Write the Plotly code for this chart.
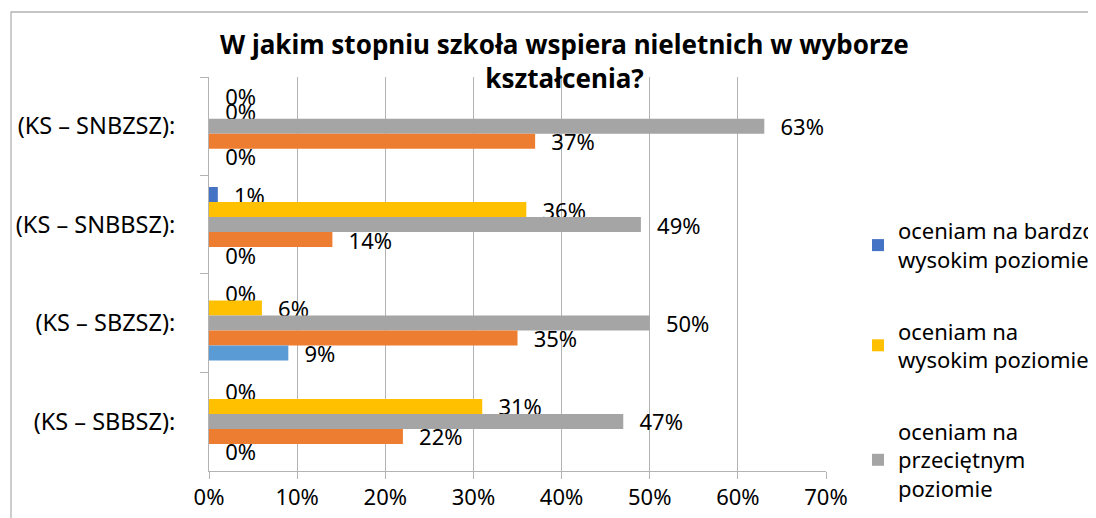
import plotly.graph_objects as go

categories = ["(KS – SNBZSZ):", "(KS – SNBBSZ):", "(KS – SBZSZ):", "(KS – SBBSZ):"]

series_names = [
    "oceniam na bardzo<br>wysokim poziomie",
    "oceniam na<br>wysokim poziomie",
    "oceniam na<br>przeciętnym<br>poziomie",
    "oceniam na<br>niskim poziomie",
    "oceniam na bardzo<br>niskim poziomie",
]
bardzo_wysoki = [0, 1, 0, 0]
wysoki = [0, 36, 6, 31]
przecietny = [63, 49, 50, 47]
niski = [37, 14, 35, 22]
bardzo_niski = [0, 0, 9, 0]

series_values = [bardzo_wysoki, wysoki, przecietny, niski, bardzo_niski]
colors = ["#4472C4", "#FFC000", "#A5A5A5", "#ED7D31", "#5B9BD5"]
show_in_legend = [True, True, True, False, False]

x_ticks = [0, 10, 20, 30, 40, 50, 60, 70]
x_tick_text = [f"{v}%" for v in x_ticks]

FONT = "Noto Sans"

# page has an 8px body margin; figure size chosen so it fills the window
W, H = 1088, 510
ML, MR, MT, MB = 201, 270, 69, 0
PLOT_BOTTOM = 462.6
GS_W = W - ML - MR
GS_H = H - MT - MB

fig = go.Figure()
for i, (name, vals, col) in enumerate(zip(series_names, series_values, colors)):
    fig.add_trace(go.Bar(
        y=categories, x=vals, name=name, orientation="h",
        marker=dict(color=col, line=dict(width=0)),
        text=[f"{v}%" for v in vals],
        texttemplate="\u2002\u200a%{text}", textposition="outside",
        textfont=dict(family=FONT, size=22, color="#000000"),
        constraintext="none", cliponaxis=False,
        legendgroup=f"g{i}", showlegend=show_in_legend[i],
        hoverinfo="skip",
    ))

fig.update_layout(
    width=W, height=H,
    margin=dict(l=ML, r=MR, t=MT, b=MB, autoexpand=False),
    paper_bgcolor="white", plot_bgcolor="white",
    barmode="group", bargap=0.237, bargroupgap=0,
    font=dict(family=FONT, size=22, color="#000000"),
    title=dict(
        text="<b>W jakim stopniu szkoła wspiera nieletnich w wyborze<br>kształcenia?</b>",
        x=556.5 / W, xanchor="center", xref="container",
        y=1 - 46 / H, yanchor="top", yref="container",
        font=dict(family=FONT, size=26, color="#000000"),
    ),
    xaxis=dict(
        range=[0, 70], tickvals=x_ticks, ticktext=x_tick_text,
        showgrid=True, gridcolor="#B3B3B3", gridwidth=1,
        showline=True, linecolor="#B3B3B3", linewidth=1,
        ticks="outside", ticklen=7, tickcolor="#B3B3B3",
        tickfont=dict(family=FONT, size=22, color="#000000"),
        zeroline=False, fixedrange=True,
    ),
    yaxis=dict(
        autorange="reversed", type="category",
        domain=[(H - PLOT_BOTTOM) / GS_H, 1],
        showgrid=False, showline=True, linecolor="#B3B3B3", linewidth=1,
        ticks="outside", ticklen=8, tickcolor="#B3B3B3", tickson="boundaries",
        ticklabelstandoff=28,
        tickfont=dict(family=FONT, size=23.5, color="#000000"),
        fixedrange=True,
    ),
    legend=dict(
        xref="paper", yref="paper",
        x=(850 - ML) / GS_W, xanchor="left",
        y=(H - MB - 202) / GS_H, yanchor="top",
        font=dict(family=FONT, size=22, color="#000000"),
        tracegroupgap=40, bgcolor="rgba(0,0,0,0)", borderwidth=0,
    ),
    shapes=[dict(
        type="rect", xref="paper", yref="paper",
        x0=(3 - ML) / GS_W, x1=(1110 - ML) / GS_W,
        y0=(H - 530) / GS_H, y1=(H - 4) / GS_H,
        line=dict(color="#B3B3B3", width=1.3), fillcolor="rgba(0,0,0,0)",
        layer="below",
    )],
    showlegend=True,
)

fig.write_html("out.html")
